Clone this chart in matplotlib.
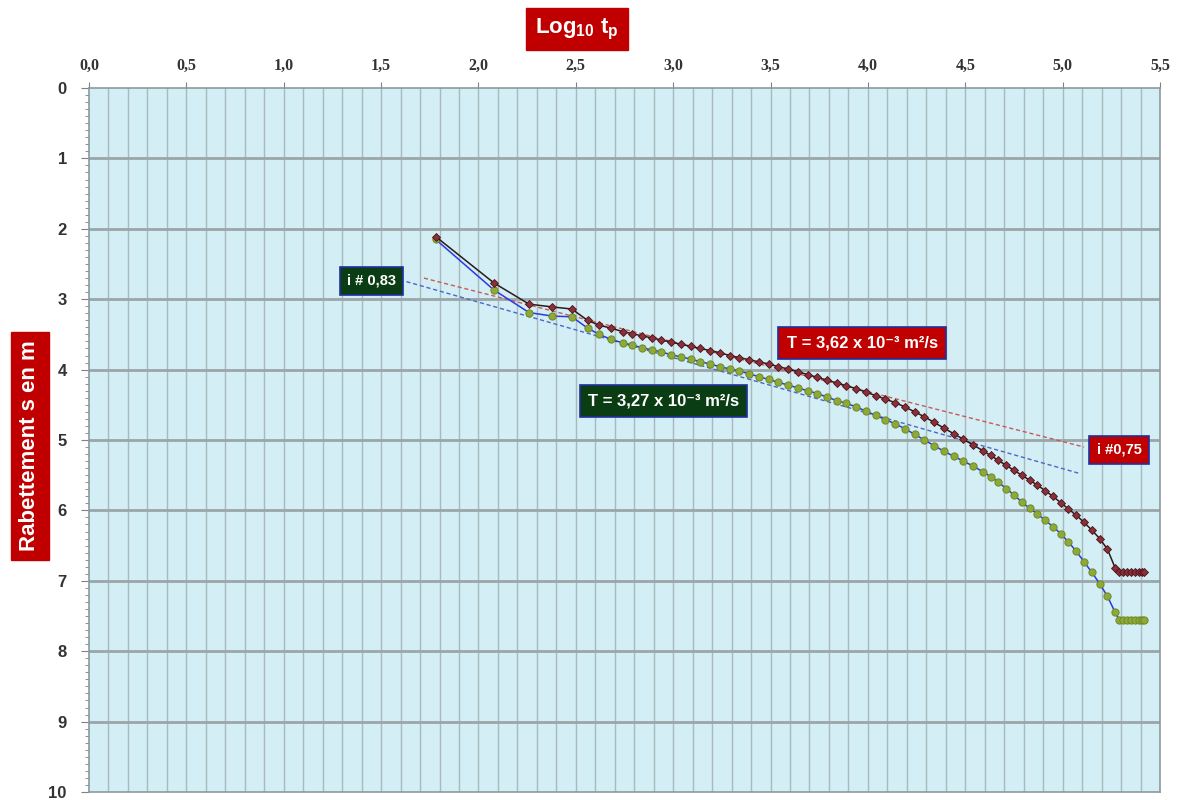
import numpy as np
import matplotlib.pyplot as plt
from matplotlib.ticker import MultipleLocator, FuncFormatter

# ---- données de l'essai de pompage ----
# temps (log10 tp) communs aux deux courbes
log_tp = [1.78, 2.08, 2.26, 2.38, 2.48,
          2.56, 2.62, 2.68, 2.74, 2.79, 2.84, 2.89, 2.94, 2.99, 3.04,
          3.09, 3.14, 3.19, 3.24, 3.29, 3.34, 3.39, 3.44, 3.49, 3.54,
          3.59, 3.64, 3.69, 3.74, 3.79, 3.84, 3.89, 3.94, 3.99, 4.04,
          4.09, 4.14, 4.19, 4.24, 4.29, 4.34, 4.39, 4.44, 4.49, 4.54,
          4.59, 4.63, 4.67, 4.71, 4.75, 4.79, 4.83, 4.87, 4.91, 4.95,
          4.99, 5.03, 5.07, 5.11, 5.15, 5.19, 5.23, 5.27,
          5.29, 5.31, 5.33, 5.35, 5.37, 5.39, 5.41, 5.42]

# rabattement série 1 (T = 3,62e-3)
s_rouge = [2.11, 2.77, 3.07, 3.11, 3.14,
           3.30, 3.37, 3.41, 3.46, 3.49, 3.52, 3.55, 3.58, 3.61, 3.64,
           3.67, 3.70, 3.73, 3.76, 3.80, 3.83, 3.86, 3.89, 3.92, 3.96,
           3.99, 4.03, 4.07, 4.11, 4.15, 4.19, 4.23, 4.27, 4.32, 4.37,
           4.42, 4.47, 4.53, 4.60, 4.67, 4.75, 4.83, 4.91, 4.99, 5.07,
           5.15, 5.22, 5.29, 5.36, 5.43, 5.50, 5.57, 5.64, 5.72, 5.80,
           5.89, 5.98, 6.07, 6.17, 6.28, 6.40, 6.55, 6.82,
           6.88, 6.88, 6.88, 6.88, 6.88, 6.88, 6.88, 6.88]

# rabattement série 2 (T = 3,27e-3)
s_vert = [2.15, 2.87, 3.19, 3.24, 3.25,
          3.41, 3.50, 3.57, 3.62, 3.65, 3.69, 3.72, 3.75, 3.79, 3.82,
          3.85, 3.89, 3.92, 3.96, 3.99, 4.02, 4.06, 4.10, 4.14, 4.18,
          4.22, 4.26, 4.30, 4.34, 4.39, 4.44, 4.48, 4.53, 4.59, 4.65,
          4.71, 4.77, 4.84, 4.92, 5.00, 5.08, 5.16, 5.23, 5.30, 5.37,
          5.45, 5.52, 5.60, 5.69, 5.78, 5.88, 5.97, 6.05, 6.14, 6.23,
          6.33, 6.45, 6.58, 6.73, 6.88, 7.04, 7.22, 7.45,
          7.55, 7.55, 7.55, 7.55, 7.55, 7.55, 7.55, 7.55]

# droites de Jacob (extrémités)
droite_rouge_x = [1.72, 5.11]
droite_rouge_y = [2.70, 5.10]
droite_bleue_x = [1.63, 5.08]
droite_bleue_y = [2.75, 5.47]

FOND = "#d3eef4"
GRILLE = "#a9babe"
ROUGE = "#c00000"
VERT_FONCE = "#0b3d14"
POLICE = ["Liberation Sans", "DejaVu Sans"]

fig = plt.figure(figsize=(11.78, 8), dpi=100)
ax = fig.add_axes([89 / 1178, 8 / 800, 1071 / 1178, 704 / 800])
ax.set_facecolor(FOND)

ax.set_xlim(0, 5.5)
ax.set_ylim(10, 0)

# grille : verticales tous les 0,1 ; horizontales tous les 1
for xv in np.arange(0.1, 5.5, 0.1):
    ax.axvline(xv, color=GRILLE, lw=1.0, zorder=1)
for yv in range(1, 10):
    ax.axhline(yv, color="#9aa6a8", lw=2.0, zorder=1)

ax.xaxis.set_major_locator(MultipleLocator(0.5))
ax.xaxis.set_major_formatter(FuncFormatter(lambda v, p: f"{v:.1f}".replace(".", ",")))
ax.yaxis.set_major_locator(MultipleLocator(1))
ax.yaxis.set_minor_locator(MultipleLocator(0.1))
ax.xaxis.tick_top()
ax.tick_params(axis="x", which="major", length=4, color="#808080", pad=6)
ax.tick_params(axis="y", which="major", length=6, color="#808080", pad=10)
ax.tick_params(axis="y", which="minor", length=3, color="#808080")
for lab in ax.get_xticklabels():
    lab.set_fontfamily("Liberation Serif")
    lab.set_fontweight("bold")
    lab.set_fontsize(11.5)
    lab.set_color("#333333")
for lab in ax.get_yticklabels():
    lab.set_fontfamily("Liberation Sans")
    lab.set_fontweight("bold")
    lab.set_fontsize(12)
    lab.set_color("#333333")
for sp in ax.spines.values():
    sp.set_color("#8a9a9e")
    sp.set_linewidth(1.2)

# droites d'ajustement
ax.plot(droite_rouge_x, droite_rouge_y, ls=(0, (3, 2)), color="#c85a5a", lw=1.0, zorder=3)
ax.plot(droite_bleue_x, droite_bleue_y, ls=(0, (3, 2)), color="#4a68c8", lw=1.0, zorder=3)

# courbes de rabattement
ax.plot(log_tp, s_vert, color="#2a3ae0", lw=1.1, marker="o", ms=5.2,
        mfc="#8fa83a", mec="#6b8a24", mew=0.7, zorder=4)
ax.plot(log_tp, s_rouge, color="#2a1a1a", lw=1.1, marker="D", ms=3.8,
        mfc="#8a3038", mec="#4a1018", mew=0.6, zorder=5)


def etiquette(x, y, texte, fond, taille=11.5, pad=0.45):
    ax.text(x, y, texte, ha="center", va="center", color="white",
            fontsize=taille, fontweight="bold", family=POLICE,
            zorder=6,
            bbox=dict(boxstyle=f"square,pad={pad}", fc=fond, ec="#2030a0", lw=1.2))


etiquette(1.45, 2.74, "i # 0,83", VERT_FONCE, 10.5, 0.5)
etiquette(3.97, 3.62, "T = 3,62 x 10⁻³ m²/s", ROUGE, 12, 0.5)
etiquette(2.95, 4.45, "T = 3,27 x 10⁻³ m²/s", VERT_FONCE, 12, 0.5)
etiquette(5.29, 5.14, "i #0,75", ROUGE, 10.5, 0.5)

# titres des axes
fig.text(577 / 1178, 1 - 29 / 800, r"Log$_{\mathregular{10}}$ t$_{\mathregular{p}}$",
         ha="center", va="center", color="white", fontsize=16, fontweight="bold",
         family="Liberation Sans",
         bbox=dict(boxstyle="square,pad=0.4", fc=ROUGE, ec=ROUGE))
fig.text(30 / 1178, 1 - 446 / 800, "Rabettement s en m", rotation=90,
         ha="center", va="center", color="white", fontsize=16, fontweight="bold",
         family="Liberation Sans",
         bbox=dict(boxstyle="square,pad=0.4", fc=ROUGE, ec=ROUGE))

fig.savefig("out.png", dpi=100, facecolor="white")
